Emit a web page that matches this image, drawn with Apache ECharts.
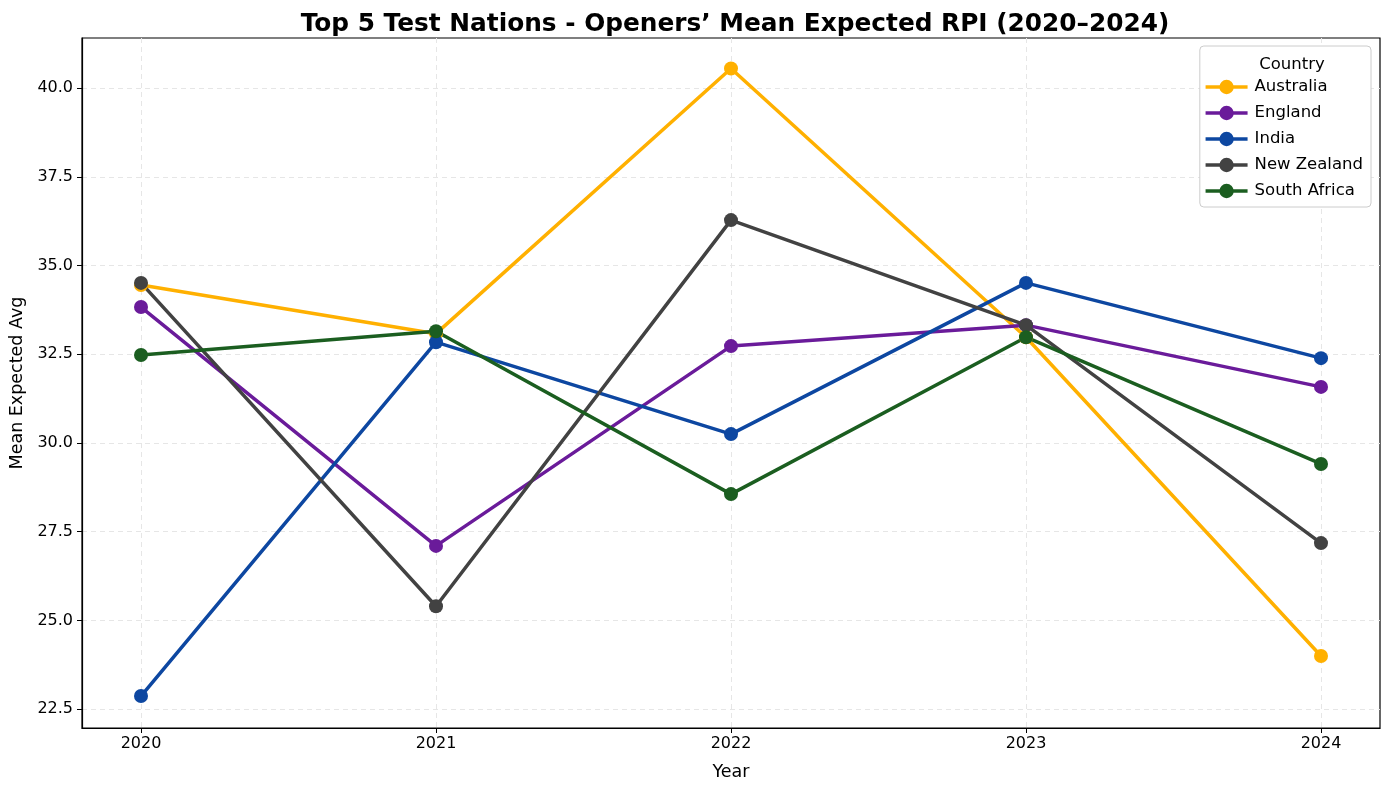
<!DOCTYPE html>
<html>
<head>
<meta charset="utf-8">
<script src="https://cdn.jsdelivr.net/npm/echarts@6/dist/echarts.min.js"></script>
<style>html,body{margin:0;padding:0;background:#fff;}#c{width:1389px;height:790px;}</style>
</head>
<body>
<div id="c"></div>
<script>
const years = [2020, 2021, 2022, 2023, 2024];
const australia = [34.45, 33.08, 40.55, 32.98, 24.0];
const england = [33.83, 27.1, 32.73, 33.32, 31.58];
const india = [22.87, 32.84, 30.25, 34.51, 32.39];
const newZealand = [34.51, 25.4, 36.28, 33.32, 27.18];
const southAfrica = [32.48, 33.15, 28.56, 32.98, 29.41];
const yTicks = [22.5, 25.0, 27.5, 30.0, 32.5, 35.0, 37.5, 40.0];

const seriesDefs = [
  {name: 'Australia', data: australia, color: '#FFB000'},
  {name: 'England', data: england, color: '#6A1B9A'},
  {name: 'India', data: india, color: '#0D47A1'},
  {name: 'New Zealand', data: newZealand, color: '#424242'},
  {name: 'South Africa', data: southAfrica, color: '#1B5E20'}
];

const font = 'DejaVu Sans';
const chart = echarts.init(document.getElementById('c'));
chart.setOption({
  animation: false,
  backgroundColor: '#fff',
  textStyle: {fontFamily: font},
  title: [{
    text: 'Top 5 Test Nations - Openers\u2019 Mean Expected RPI (2020\u20132024)',
    left: 730, top: 7, textAlign: 'center',
    textStyle: {fontFamily: font, fontSize: 24.8, fontWeight: 'bold', color: '#000'}
  }, {
    text: 'Country',
    left: 1287, top: 51, textAlign: 'center',
    textStyle: {fontFamily: font, fontSize: 16.5, fontWeight: 'normal', color: '#000'}
  }],
  legend: {
    orient: 'vertical',
    right: 18, top: 46,
    padding: [32, 8, 7, 4],
    itemGap: 8,
    itemWidth: 42, itemHeight: 18,
    backgroundColor: '#fff',
    borderColor: '#cccccc', borderWidth: 1, borderRadius: 4,
    lineStyle: {width: 3.5},
    textStyle: {fontFamily: font, fontSize: 16.5, color: '#000', lineHeight: 18, padding: [0, 0, 0, 2]},
    data: seriesDefs.map(s => s.name)
  },
  grid: {left: 82, right: 9, top: 38, bottom: 62, show: true, borderColor: '#000', borderWidth: 1.2, backgroundColor: 'transparent', containLabel: false, outerBoundsMode: 'none'},
  xAxis: {
    type: 'value', min: 2019.8, max: 2024.2,
    name: 'Year', nameLocation: 'middle', nameGap: 35,
    nameTextStyle: {fontFamily: font, fontSize: 17.5, color: '#000'},
    axisLine: {show: true, onZero: false, lineStyle: {color: '#000', width: 1.2}},
    axisTick: {show: true, length: 5, lineStyle: {color: '#000'}, customValues: years},
    axisLabel: {fontFamily: font, fontSize: 16, color: '#000', margin: 8, customValues: years, formatter: v => String(Math.round(v))},
    splitLine: {show: true, lineStyle: {color: '#e6e6e6', type: [5, 4], width: 1}}
  },
  yAxis: {
    type: 'value', min: 21.97, max: 41.41,
    name: 'Mean Expected Avg', nameLocation: 'middle', nameGap: 54,
    nameTextStyle: {fontFamily: font, fontSize: 17.5, color: '#000'},
    axisLine: {show: true, onZero: false, lineStyle: {color: '#000', width: 1.2}},
    axisTick: {show: true, length: 5, lineStyle: {color: '#000'}, customValues: yTicks},
    axisLabel: {fontFamily: font, fontSize: 16, color: '#000', margin: 9, customValues: yTicks, formatter: v => v.toFixed(1)},
    splitLine: {show: true, lineStyle: {color: '#e6e6e6', type: [5, 4], width: 1}}
  },
  series: seriesDefs.map(s => ({
    name: s.name,
    type: 'line',
    data: years.map((y, i) => [y, s.data[i]]),
    symbol: 'circle', symbolSize: 14,
    lineStyle: {width: 3.5, color: s.color},
    itemStyle: {color: s.color},
    emphasis: {disabled: true}
  }))
});
</script>
</body>
</html>
